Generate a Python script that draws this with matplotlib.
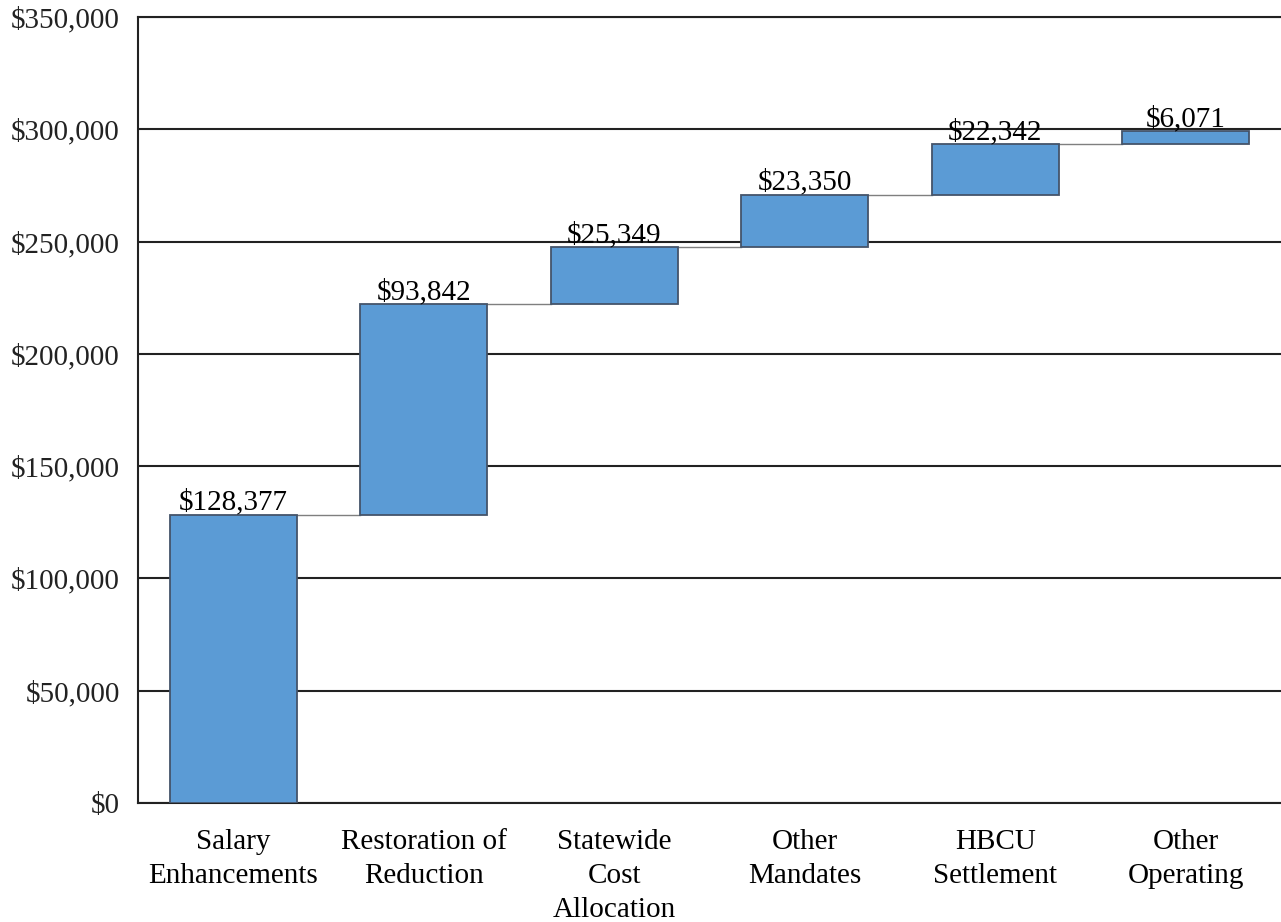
import numpy as np
import matplotlib.pyplot as plt
from matplotlib.ticker import FuncFormatter

plt.rcParams['font.family'] = ['Liberation Serif', 'DejaVu Serif']

categories = ['Salary\nEnhancements', 'Restoration of\nReduction', 'Statewide\nCost\nAllocation',
              'Other\nMandates', 'HBCU\nSettlement', 'Other\nOperating']
amounts = [128377, 93842, 25349, 23350, 22342, 6071]

bottoms = np.concatenate([[0], np.cumsum(amounts)[:-1]])
tops = bottoms + np.array(amounts)
x = np.arange(len(categories))
width = 0.667

fig = plt.figure(figsize=(12.81, 9.22), dpi=100)
ax = fig.add_axes([0.1077, 0.129, 0.8923, 0.8526])

ax.set_axisbelow(True)
ax.yaxis.grid(True, color='#222222', linewidth=1.5)
ax.bar(x, amounts, bottom=bottoms, width=width, color='#5B9BD5',
       edgecolor='#44546A', linewidth=1.3, zorder=3)

# connectors between bars
for i in range(len(x) - 1):
    ax.plot([x[i] + width / 2, x[i + 1] - width / 2], [tops[i], tops[i]],
            color='#7f7f7f', linewidth=1, zorder=2.5)

for xi, t, a in zip(x, tops, amounts):
    ax.text(xi, t - 500, '${:,}'.format(a), ha='center', va='bottom', fontsize=21, zorder=4)

ax.set_xlim(-0.5, 5.5)
ax.set_ylim(0, 350000)
ax.set_yticks(np.arange(0, 350001, 50000))
ax.yaxis.set_major_formatter(FuncFormatter(lambda v, p: '${:,.0f}'.format(v)))
ax.set_xticks(x)
ax.set_xticklabels(categories, fontsize=21, linespacing=1.38)
ax.tick_params(axis='y', length=0, labelsize=21, pad=13, colors='#222222')
ax.tick_params(axis='x', length=0, pad=19)

for s in ['right']:
    ax.spines[s].set_visible(False)
for s in ['left', 'bottom', 'top']:
    ax.spines[s].set_color('#222222')
    ax.spines[s].set_linewidth(1.5)

plt.savefig('out.png', dpi=100)
